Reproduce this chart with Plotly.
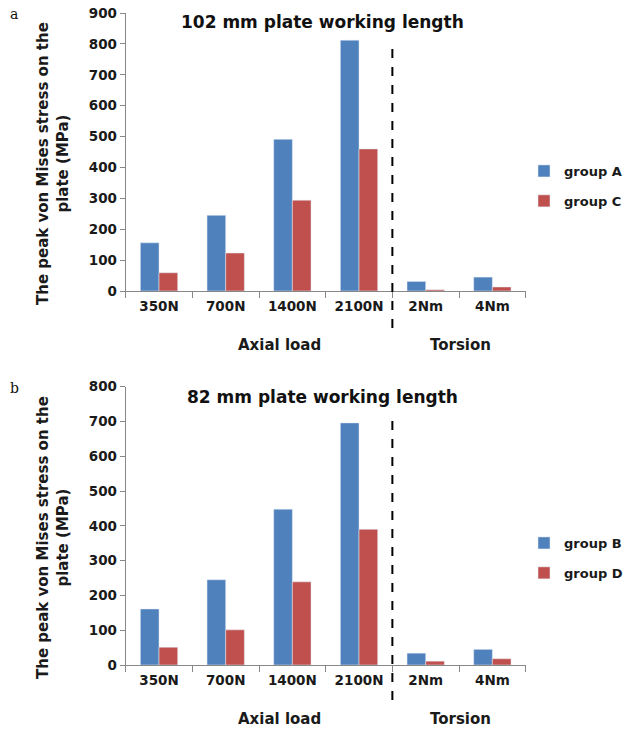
import plotly.graph_objects as go

categories = ["350N", "700N", "1400N", "2100N", "2Nm", "4Nm"]
group_a = [156, 245, 491, 812, 31, 45]
group_c = [59, 123, 294, 460, 4, 13]
group_b = [161, 245, 448, 696, 34, 45]
group_d = [51, 101, 239, 390, 11, 18]
titles = ["102 mm plate working length", "82 mm plate working length"]
y_title = "The peak von Mises stress on the<br>plate (MPa)"

BLUE = "#4F81BD"
RED = "#C0504D"
FONT = "DejaVu Sans"
W, H = 627, 729

fig = go.Figure()
fig.add_trace(go.Bar(x=categories, y=group_a, name="group A", marker_color=BLUE,
                     xaxis="x", yaxis="y", legend="legend", legendgroup="a"))
fig.add_trace(go.Bar(x=categories, y=group_c, name="group C", marker_color=RED,
                     xaxis="x", yaxis="y", legend="legend", legendgroup="c"))
fig.add_trace(go.Bar(x=categories, y=group_b, name="group B", marker_color=BLUE,
                     xaxis="x2", yaxis="y2", legend="legend2", legendgroup="b"))
fig.add_trace(go.Bar(x=categories, y=group_d, name="group D", marker_color=RED,
                     xaxis="x2", yaxis="y2", legend="legend2", legendgroup="d"))

def px_x(p):
    return p / W

def px_y(p):
    return 1 - p / H

xdom = [px_x(125.7), px_x(525.7)]
axis_font = dict(family=FONT, size=13.5, color="#1a1a1a", weight="bold")
xcommon = dict(type="category", tickson="boundaries", ticks="outside", ticklen=6,
               tickcolor="#888888", showline=True, linecolor="#888888", linewidth=1,
               showgrid=False, tickfont=axis_font, domain=xdom, fixedrange=True,
               ticklabelstandoff=3)
ycommon = dict(ticks="outside", ticklen=5, tickcolor="#888888", showline=True,
               linecolor="#888888", linewidth=1, showgrid=False, zeroline=False,
               tickfont=axis_font, dtick=100, fixedrange=True)

legend_common = dict(font=dict(family=FONT, size=13, color="#1a1a1a", weight="bold"),
                     tracegroupgap=10, bgcolor="rgba(0,0,0,0)", xanchor="left", yanchor="middle",
                     itemwidth=30)

fig.update_layout(
    width=W, height=H,
    margin=dict(l=0, r=0, t=0, b=0, autoexpand=False),
    paper_bgcolor="white", plot_bgcolor="white",
    barmode="group", bargap=0.44, bargroupgap=0,
    xaxis=dict(**xcommon, anchor="y"),
    yaxis=dict(**ycommon, range=[0, 900], domain=[px_y(291), px_y(13)], anchor="x"),
    xaxis2=dict(**xcommon, anchor="y2"),
    yaxis2=dict(**ycommon, range=[0, 800], domain=[px_y(665), px_y(386.7)], anchor="x2"),
    legend=dict(**legend_common, x=px_x(524), y=px_y(186)),
    legend2=dict(**legend_common, x=px_x(524), y=px_y(558)),
    showlegend=True,
)

# dashed separators between axial load and torsion
for xref, y0, y1 in [("x", 328, 40), ("x2", 700, 413)]:
    fig.add_shape(type="line", xref=xref, yref="paper", x0=3.5, x1=3.5,
                  y0=px_y(y0), y1=px_y(y1),
                  line=dict(color="black", width=2, dash="dash"))

ann_font = dict(family=FONT, size=15, color="#1a1a1a", weight="bold")
annotations = []
# titles
for t, yp in [(titles[0], 22), (titles[1], 397)]:
    annotations.append(dict(text=t, x=px_x(322), y=px_y(yp), xref="paper", yref="paper",
                            showarrow=False, xanchor="center", yanchor="middle",
                            font=dict(family=FONT, size=17, color="#111111", weight="bold")))
# y titles
for yp in [164, 538]:
    annotations.append(dict(text=y_title, x=px_x(53), y=px_y(yp), xref="paper", yref="paper",
                            showarrow=False, textangle=-90, xanchor="center", yanchor="middle",
                            align="center", font=ann_font))
# group labels
for yp in [345, 719]:
    annotations.append(dict(text="Axial load", x=px_x(279), y=px_y(yp), xref="paper", yref="paper",
                            showarrow=False, xanchor="center", yanchor="middle", font=ann_font))
    annotations.append(dict(text="Torsion", x=px_x(460), y=px_y(yp), xref="paper", yref="paper",
                            showarrow=False, xanchor="center", yanchor="middle", font=ann_font))
# panel letters
for letter, yp in [("a", 14), ("b", 388)]:
    annotations.append(dict(text=letter, x=px_x(8), y=px_y(yp), xref="paper", yref="paper",
                            showarrow=False, xanchor="left", yanchor="middle",
                            font=dict(family="DejaVu Serif", size=14, color="#111111")))
fig.update_layout(annotations=annotations)

fig.write_html("out.html", config={"displayModeBar": False},
               post_script="document.body.style.margin='0';document.body.style.overflow='hidden';")
